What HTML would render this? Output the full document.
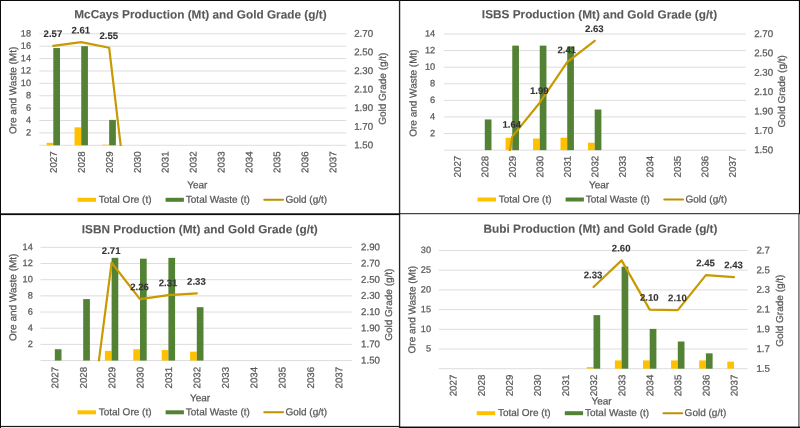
<!DOCTYPE html>
<html><head><meta charset="utf-8"><title>Production and Gold Grade</title>
<style>html,body{margin:0;padding:0;background:#fff}svg{display:block}text{font-family:"Liberation Sans",Arial,sans-serif}</style></head><body>
<svg width="800" height="428" viewBox="0 0 800 428">
<rect x="0" y="0" width="800" height="428" fill="#fff"/>
<g transform="translate(0,0)">
<text transform="translate(200.4,18.4) rotate(0.03)" font-size="11.8" fill="#595959" stroke="#595959" stroke-width="0.1" text-anchor="middle" font-weight="bold">McCays Production (Mt) and Gold Grade (g/t)</text>
<line x1="39.3" x2="346.3" y1="145.3" y2="145.3" stroke="#d9d9d9" stroke-width="0.9"/>
<line x1="39.3" x2="346.3" y1="132.91" y2="132.91" stroke="#d9d9d9" stroke-width="0.9"/>
<text transform="translate(31.1,135.5) rotate(0.03)" font-size="9.2" fill="#595959" stroke="#595959" stroke-width="0.25" text-anchor="end">2</text>
<line x1="39.3" x2="346.3" y1="120.52" y2="120.52" stroke="#d9d9d9" stroke-width="0.9"/>
<text transform="translate(31.1,123.12) rotate(0.03)" font-size="9.2" fill="#595959" stroke="#595959" stroke-width="0.25" text-anchor="end">4</text>
<line x1="39.3" x2="346.3" y1="108.13" y2="108.13" stroke="#d9d9d9" stroke-width="0.9"/>
<text transform="translate(31.1,110.73) rotate(0.03)" font-size="9.2" fill="#595959" stroke="#595959" stroke-width="0.25" text-anchor="end">6</text>
<line x1="39.3" x2="346.3" y1="95.74" y2="95.74" stroke="#d9d9d9" stroke-width="0.9"/>
<text transform="translate(31.1,98.34) rotate(0.03)" font-size="9.2" fill="#595959" stroke="#595959" stroke-width="0.25" text-anchor="end">8</text>
<line x1="39.3" x2="346.3" y1="83.36" y2="83.36" stroke="#d9d9d9" stroke-width="0.9"/>
<text transform="translate(31.1,85.95) rotate(0.03)" font-size="9.2" fill="#595959" stroke="#595959" stroke-width="0.25" text-anchor="end">10</text>
<line x1="39.3" x2="346.3" y1="70.97" y2="70.97" stroke="#d9d9d9" stroke-width="0.9"/>
<text transform="translate(31.1,73.56) rotate(0.03)" font-size="9.2" fill="#595959" stroke="#595959" stroke-width="0.25" text-anchor="end">12</text>
<line x1="39.3" x2="346.3" y1="58.58" y2="58.58" stroke="#d9d9d9" stroke-width="0.9"/>
<text transform="translate(31.1,61.17) rotate(0.03)" font-size="9.2" fill="#595959" stroke="#595959" stroke-width="0.25" text-anchor="end">14</text>
<line x1="39.3" x2="346.3" y1="46.19" y2="46.19" stroke="#d9d9d9" stroke-width="0.9"/>
<text transform="translate(31.1,48.78) rotate(0.03)" font-size="9.2" fill="#595959" stroke="#595959" stroke-width="0.25" text-anchor="end">16</text>
<line x1="39.3" x2="346.3" y1="33.8" y2="33.8" stroke="#d9d9d9" stroke-width="0.9"/>
<text transform="translate(31.1,36.39) rotate(0.03)" font-size="9.2" fill="#595959" stroke="#595959" stroke-width="0.25" text-anchor="end">18</text>
<text transform="translate(354.2,148.27) rotate(0.03)" font-size="9.7" fill="#595959" stroke="#595959" stroke-width="0.25">1.50</text>
<text transform="translate(354.2,129.69) rotate(0.03)" font-size="9.7" fill="#595959" stroke="#595959" stroke-width="0.25">1.70</text>
<text transform="translate(354.2,111.11) rotate(0.03)" font-size="9.7" fill="#595959" stroke="#595959" stroke-width="0.25">1.90</text>
<text transform="translate(354.2,92.52) rotate(0.03)" font-size="9.7" fill="#595959" stroke="#595959" stroke-width="0.25">2.10</text>
<text transform="translate(354.2,73.94) rotate(0.03)" font-size="9.7" fill="#595959" stroke="#595959" stroke-width="0.25">2.30</text>
<text transform="translate(354.2,55.36) rotate(0.03)" font-size="9.7" fill="#595959" stroke="#595959" stroke-width="0.25">2.50</text>
<text transform="translate(354.2,36.77) rotate(0.03)" font-size="9.7" fill="#595959" stroke="#595959" stroke-width="0.25">2.70</text>
<rect x="46.6" y="142.82" width="6.7" height="2.48" fill="#ffc000"/>
<rect x="53.3" y="48.05" width="6.7" height="97.25" fill="#548235"/>
<rect x="74.53" y="127.34" width="6.7" height="17.96" fill="#ffc000"/>
<rect x="81.23" y="46.19" width="6.7" height="99.11" fill="#548235"/>
<rect x="102.46" y="144.68" width="6.7" height="0.62" fill="#ffc000"/>
<rect x="109.16" y="119.9" width="6.7" height="25.4" fill="#548235"/>
<clipPath id="clip0_0"><rect x="39.3" y="28.8" width="307" height="117.3"/></clipPath>
<polyline clip-path="url(#clip0_0)" points="53.3,45.88 81.23,42.16 109.16,47.74 137.09,284.68 165.02,284.68 192.95,284.68 220.88,284.68 248.81,284.68 276.74,284.68 304.67,284.68 332.6,284.68" fill="none" stroke="#c79a00" stroke-width="2.2" stroke-linejoin="round" stroke-linecap="round"/>
<text transform="translate(52.9,37.12) rotate(0.03)" font-size="9.6" fill="#333333" stroke="#333333" stroke-width="0.1" text-anchor="middle" font-weight="bold">2.57</text>
<text transform="translate(80.83,33.4) rotate(0.03)" font-size="9.6" fill="#333333" stroke="#333333" stroke-width="0.1" text-anchor="middle" font-weight="bold">2.61</text>
<text transform="translate(108.76,38.97) rotate(0.03)" font-size="9.6" fill="#333333" stroke="#333333" stroke-width="0.1" text-anchor="middle" font-weight="bold">2.55</text>
<text transform="translate(56.87,162.2) rotate(-89.97)" font-size="9.7" fill="#595959" stroke="#595959" stroke-width="0.25" text-anchor="middle">2027</text>
<text transform="translate(84.8,162.2) rotate(-89.97)" font-size="9.7" fill="#595959" stroke="#595959" stroke-width="0.25" text-anchor="middle">2028</text>
<text transform="translate(112.73,162.2) rotate(-89.97)" font-size="9.7" fill="#595959" stroke="#595959" stroke-width="0.25" text-anchor="middle">2029</text>
<text transform="translate(140.66,162.2) rotate(-89.97)" font-size="9.7" fill="#595959" stroke="#595959" stroke-width="0.25" text-anchor="middle">2030</text>
<text transform="translate(168.59,162.2) rotate(-89.97)" font-size="9.7" fill="#595959" stroke="#595959" stroke-width="0.25" text-anchor="middle">2031</text>
<text transform="translate(196.52,162.2) rotate(-89.97)" font-size="9.7" fill="#595959" stroke="#595959" stroke-width="0.25" text-anchor="middle">2032</text>
<text transform="translate(224.45,162.2) rotate(-89.97)" font-size="9.7" fill="#595959" stroke="#595959" stroke-width="0.25" text-anchor="middle">2033</text>
<text transform="translate(252.38,162.2) rotate(-89.97)" font-size="9.7" fill="#595959" stroke="#595959" stroke-width="0.25" text-anchor="middle">2034</text>
<text transform="translate(280.31,162.2) rotate(-89.97)" font-size="9.7" fill="#595959" stroke="#595959" stroke-width="0.25" text-anchor="middle">2035</text>
<text transform="translate(308.24,162.2) rotate(-89.97)" font-size="9.7" fill="#595959" stroke="#595959" stroke-width="0.25" text-anchor="middle">2036</text>
<text transform="translate(336.17,162.2) rotate(-89.97)" font-size="9.7" fill="#595959" stroke="#595959" stroke-width="0.25" text-anchor="middle">2037</text>
<text transform="translate(16.18,90.4) rotate(-89.97)" font-size="10" fill="#595959" stroke="#595959" stroke-width="0.25" text-anchor="middle">Ore and Waste (Mt)</text>
<text transform="translate(385.88,88.7) rotate(-89.97)" font-size="10" fill="#595959" stroke="#595959" stroke-width="0.25" text-anchor="middle">Gold Grade (g/t)</text>
<text transform="translate(197.3,188.18) rotate(0.03)" font-size="10" fill="#595959" stroke="#595959" stroke-width="0.25" text-anchor="middle">Year</text>
<g transform="translate(0,0)">
<rect x="77.5" y="197.8" width="18.5" height="4" fill="#ffc000"/>
<text transform="translate(98.7,202.7) rotate(0.03)" font-size="10" fill="#595959" stroke="#595959" stroke-width="0.25">Total Ore (t)</text>
<rect x="165.6" y="197.8" width="18.3" height="4" fill="#548235"/>
<text transform="translate(185.8,202.7) rotate(0.03)" font-size="10" fill="#595959" stroke="#595959" stroke-width="0.25">Total Waste (t)</text>
<line x1="264.3" x2="283" y1="199.8" y2="199.8" stroke="#bf9000" stroke-width="2.1" stroke-linecap="round"/>
<text transform="translate(285.4,202.7) rotate(0.03)" font-size="10" fill="#595959" stroke="#595959" stroke-width="0.25">Gold (g/t)</text>
</g>
</g>
<g transform="translate(400,0)">
<text transform="translate(199.5,18.4) rotate(0.03)" font-size="11.8" fill="#595959" stroke="#595959" stroke-width="0.1" text-anchor="middle" font-weight="bold">ISBS Production (Mt) and Gold Grade (g/t)</text>
<line x1="43.7" x2="345.8" y1="150.15" y2="150.15" stroke="#d9d9d9" stroke-width="0.9"/>
<line x1="43.7" x2="345.8" y1="133.56" y2="133.56" stroke="#d9d9d9" stroke-width="0.9"/>
<text transform="translate(35.2,136.15) rotate(0.03)" font-size="9.2" fill="#595959" stroke="#595959" stroke-width="0.25" text-anchor="end">2</text>
<line x1="43.7" x2="345.8" y1="116.96" y2="116.96" stroke="#d9d9d9" stroke-width="0.9"/>
<text transform="translate(35.2,119.56) rotate(0.03)" font-size="9.2" fill="#595959" stroke="#595959" stroke-width="0.25" text-anchor="end">4</text>
<line x1="43.7" x2="345.8" y1="100.37" y2="100.37" stroke="#d9d9d9" stroke-width="0.9"/>
<text transform="translate(35.2,102.97) rotate(0.03)" font-size="9.2" fill="#595959" stroke="#595959" stroke-width="0.25" text-anchor="end">6</text>
<line x1="43.7" x2="345.8" y1="83.78" y2="83.78" stroke="#d9d9d9" stroke-width="0.9"/>
<text transform="translate(35.2,86.37) rotate(0.03)" font-size="9.2" fill="#595959" stroke="#595959" stroke-width="0.25" text-anchor="end">8</text>
<line x1="43.7" x2="345.8" y1="67.19" y2="67.19" stroke="#d9d9d9" stroke-width="0.9"/>
<text transform="translate(35.2,69.78) rotate(0.03)" font-size="9.2" fill="#595959" stroke="#595959" stroke-width="0.25" text-anchor="end">10</text>
<line x1="43.7" x2="345.8" y1="50.59" y2="50.59" stroke="#d9d9d9" stroke-width="0.9"/>
<text transform="translate(35.2,53.19) rotate(0.03)" font-size="9.2" fill="#595959" stroke="#595959" stroke-width="0.25" text-anchor="end">12</text>
<line x1="43.7" x2="345.8" y1="34" y2="34" stroke="#d9d9d9" stroke-width="0.9"/>
<text transform="translate(35.2,36.59) rotate(0.03)" font-size="9.2" fill="#595959" stroke="#595959" stroke-width="0.25" text-anchor="end">14</text>
<text transform="translate(354.2,153.12) rotate(0.03)" font-size="9.7" fill="#595959" stroke="#595959" stroke-width="0.25">1.50</text>
<text transform="translate(354.2,133.76) rotate(0.03)" font-size="9.7" fill="#595959" stroke="#595959" stroke-width="0.25">1.70</text>
<text transform="translate(354.2,114.41) rotate(0.03)" font-size="9.7" fill="#595959" stroke="#595959" stroke-width="0.25">1.90</text>
<text transform="translate(354.2,95.05) rotate(0.03)" font-size="9.7" fill="#595959" stroke="#595959" stroke-width="0.25">2.10</text>
<text transform="translate(354.2,75.69) rotate(0.03)" font-size="9.7" fill="#595959" stroke="#595959" stroke-width="0.25">2.30</text>
<text transform="translate(354.2,56.33) rotate(0.03)" font-size="9.7" fill="#595959" stroke="#595959" stroke-width="0.25">2.50</text>
<text transform="translate(354.2,36.97) rotate(0.03)" font-size="9.7" fill="#595959" stroke="#595959" stroke-width="0.25">2.70</text>
<rect x="84.78" y="119.45" width="6.7" height="30.7" fill="#548235"/>
<rect x="105.56" y="137.71" width="6.7" height="12.44" fill="#ffc000"/>
<rect x="112.26" y="45.62" width="6.7" height="104.53" fill="#548235"/>
<rect x="133.04" y="138.53" width="6.7" height="11.61" fill="#ffc000"/>
<rect x="139.74" y="45.62" width="6.7" height="104.53" fill="#548235"/>
<rect x="160.52" y="137.71" width="6.7" height="12.44" fill="#ffc000"/>
<rect x="167.22" y="46.44" width="6.7" height="103.71" fill="#548235"/>
<rect x="188" y="142.68" width="6.7" height="7.47" fill="#ffc000"/>
<rect x="194.7" y="109.5" width="6.7" height="40.65" fill="#548235"/>
<clipPath id="clip400_0"><rect x="43.7" y="29" width="302.1" height="121.95"/></clipPath>
<polyline clip-path="url(#clip400_0)" points="57.3,295.34 84.78,295.34 112.26,136.6 139.74,102.72 167.22,62.07 194.7,40.78" fill="none" stroke="#c79a00" stroke-width="2.2" stroke-linejoin="round" stroke-linecap="round"/>
<text transform="translate(111.86,127.84) rotate(0.03)" font-size="9.6" fill="#333333" stroke="#333333" stroke-width="0.1" text-anchor="middle" font-weight="bold">1.64</text>
<text transform="translate(139.34,93.96) rotate(0.03)" font-size="9.6" fill="#333333" stroke="#333333" stroke-width="0.1" text-anchor="middle" font-weight="bold">1.99</text>
<text transform="translate(166.82,53.31) rotate(0.03)" font-size="9.6" fill="#333333" stroke="#333333" stroke-width="0.1" text-anchor="middle" font-weight="bold">2.41</text>
<text transform="translate(194.3,32.01) rotate(0.03)" font-size="9.6" fill="#333333" stroke="#333333" stroke-width="0.1" text-anchor="middle" font-weight="bold">2.63</text>
<text transform="translate(60.87,166.6) rotate(-89.97)" font-size="9.7" fill="#595959" stroke="#595959" stroke-width="0.25" text-anchor="middle">2027</text>
<text transform="translate(88.35,166.6) rotate(-89.97)" font-size="9.7" fill="#595959" stroke="#595959" stroke-width="0.25" text-anchor="middle">2028</text>
<text transform="translate(115.83,166.6) rotate(-89.97)" font-size="9.7" fill="#595959" stroke="#595959" stroke-width="0.25" text-anchor="middle">2029</text>
<text transform="translate(143.31,166.6) rotate(-89.97)" font-size="9.7" fill="#595959" stroke="#595959" stroke-width="0.25" text-anchor="middle">2030</text>
<text transform="translate(170.79,166.6) rotate(-89.97)" font-size="9.7" fill="#595959" stroke="#595959" stroke-width="0.25" text-anchor="middle">2031</text>
<text transform="translate(198.27,166.6) rotate(-89.97)" font-size="9.7" fill="#595959" stroke="#595959" stroke-width="0.25" text-anchor="middle">2032</text>
<text transform="translate(225.75,166.6) rotate(-89.97)" font-size="9.7" fill="#595959" stroke="#595959" stroke-width="0.25" text-anchor="middle">2033</text>
<text transform="translate(253.23,166.6) rotate(-89.97)" font-size="9.7" fill="#595959" stroke="#595959" stroke-width="0.25" text-anchor="middle">2034</text>
<text transform="translate(280.71,166.6) rotate(-89.97)" font-size="9.7" fill="#595959" stroke="#595959" stroke-width="0.25" text-anchor="middle">2035</text>
<text transform="translate(308.19,166.6) rotate(-89.97)" font-size="9.7" fill="#595959" stroke="#595959" stroke-width="0.25" text-anchor="middle">2036</text>
<text transform="translate(335.67,166.6) rotate(-89.97)" font-size="9.7" fill="#595959" stroke="#595959" stroke-width="0.25" text-anchor="middle">2037</text>
<text transform="translate(16.58,93.1) rotate(-89.97)" font-size="10" fill="#595959" stroke="#595959" stroke-width="0.25" text-anchor="middle">Ore and Waste (Mt)</text>
<text transform="translate(384.98,91.3) rotate(-89.97)" font-size="10" fill="#595959" stroke="#595959" stroke-width="0.25" text-anchor="middle">Gold Grade (g/t)</text>
<text transform="translate(199,188.18) rotate(0.03)" font-size="10" fill="#595959" stroke="#595959" stroke-width="0.25" text-anchor="middle">Year</text>
<g transform="translate(0,0)">
<rect x="77.5" y="197.5" width="18.5" height="4" fill="#ffc000"/>
<text transform="translate(98.7,202.4) rotate(0.03)" font-size="10" fill="#595959" stroke="#595959" stroke-width="0.25">Total Ore (t)</text>
<rect x="165.6" y="197.5" width="18.3" height="4" fill="#548235"/>
<text transform="translate(185.8,202.4) rotate(0.03)" font-size="10" fill="#595959" stroke="#595959" stroke-width="0.25">Total Waste (t)</text>
<line x1="264.3" x2="283" y1="199.5" y2="199.5" stroke="#bf9000" stroke-width="2.1" stroke-linecap="round"/>
<text transform="translate(285.4,202.4) rotate(0.03)" font-size="10" fill="#595959" stroke="#595959" stroke-width="0.25">Gold (g/t)</text>
</g>
</g>
<g transform="translate(0,214)">
<text transform="translate(199.8,19.3) rotate(0.03)" font-size="11.8" fill="#595959" stroke="#595959" stroke-width="0.1" text-anchor="middle" font-weight="bold">ISBN Production (Mt) and Gold Grade (g/t)</text>
<line x1="40.5" x2="351.8" y1="146.55" y2="146.55" stroke="#d9d9d9" stroke-width="0.9"/>
<line x1="40.5" x2="351.8" y1="130.38" y2="130.38" stroke="#d9d9d9" stroke-width="0.9"/>
<text transform="translate(32.8,132.97) rotate(0.03)" font-size="9.2" fill="#595959" stroke="#595959" stroke-width="0.25" text-anchor="end">2</text>
<line x1="40.5" x2="351.8" y1="114.21" y2="114.21" stroke="#d9d9d9" stroke-width="0.9"/>
<text transform="translate(32.8,116.8) rotate(0.03)" font-size="9.2" fill="#595959" stroke="#595959" stroke-width="0.25" text-anchor="end">4</text>
<line x1="40.5" x2="351.8" y1="98.04" y2="98.04" stroke="#d9d9d9" stroke-width="0.9"/>
<text transform="translate(32.8,100.63) rotate(0.03)" font-size="9.2" fill="#595959" stroke="#595959" stroke-width="0.25" text-anchor="end">6</text>
<line x1="40.5" x2="351.8" y1="81.86" y2="81.86" stroke="#d9d9d9" stroke-width="0.9"/>
<text transform="translate(32.8,84.46) rotate(0.03)" font-size="9.2" fill="#595959" stroke="#595959" stroke-width="0.25" text-anchor="end">8</text>
<line x1="40.5" x2="351.8" y1="65.69" y2="65.69" stroke="#d9d9d9" stroke-width="0.9"/>
<text transform="translate(32.8,68.29) rotate(0.03)" font-size="9.2" fill="#595959" stroke="#595959" stroke-width="0.25" text-anchor="end">10</text>
<line x1="40.5" x2="351.8" y1="49.52" y2="49.52" stroke="#d9d9d9" stroke-width="0.9"/>
<text transform="translate(32.8,52.12) rotate(0.03)" font-size="9.2" fill="#595959" stroke="#595959" stroke-width="0.25" text-anchor="end">12</text>
<line x1="40.5" x2="351.8" y1="33.35" y2="33.35" stroke="#d9d9d9" stroke-width="0.9"/>
<text transform="translate(32.8,35.94) rotate(0.03)" font-size="9.2" fill="#595959" stroke="#595959" stroke-width="0.25" text-anchor="end">14</text>
<text transform="translate(361.1,149.52) rotate(0.03)" font-size="9.7" fill="#595959" stroke="#595959" stroke-width="0.25">1.50</text>
<text transform="translate(361.1,133.35) rotate(0.03)" font-size="9.7" fill="#595959" stroke="#595959" stroke-width="0.25">1.70</text>
<text transform="translate(361.1,117.18) rotate(0.03)" font-size="9.7" fill="#595959" stroke="#595959" stroke-width="0.25">1.90</text>
<text transform="translate(361.1,101.01) rotate(0.03)" font-size="9.7" fill="#595959" stroke="#595959" stroke-width="0.25">2.10</text>
<text transform="translate(361.1,84.84) rotate(0.03)" font-size="9.7" fill="#595959" stroke="#595959" stroke-width="0.25">2.30</text>
<text transform="translate(361.1,68.67) rotate(0.03)" font-size="9.7" fill="#595959" stroke="#595959" stroke-width="0.25">2.50</text>
<text transform="translate(361.1,52.49) rotate(0.03)" font-size="9.7" fill="#595959" stroke="#595959" stroke-width="0.25">2.70</text>
<text transform="translate(361.1,36.32) rotate(0.03)" font-size="9.7" fill="#595959" stroke="#595959" stroke-width="0.25">2.90</text>
<rect x="54.8" y="135.23" width="6.7" height="11.32" fill="#548235"/>
<rect x="83.2" y="85.1" width="6.7" height="61.45" fill="#548235"/>
<rect x="104.9" y="136.85" width="6.7" height="9.7" fill="#ffc000"/>
<rect x="111.6" y="43.86" width="6.7" height="102.69" fill="#548235"/>
<rect x="133.3" y="135.23" width="6.7" height="11.32" fill="#ffc000"/>
<rect x="140" y="44.67" width="6.7" height="101.88" fill="#548235"/>
<rect x="161.7" y="136.04" width="6.7" height="10.51" fill="#ffc000"/>
<rect x="168.4" y="43.86" width="6.7" height="102.69" fill="#548235"/>
<rect x="190.1" y="137.66" width="6.7" height="8.89" fill="#ffc000"/>
<rect x="196.8" y="93.18" width="6.7" height="53.37" fill="#548235"/>
<clipPath id="clip0_214"><rect x="40.5" y="28.35" width="311.3" height="119"/></clipPath>
<polyline clip-path="url(#clip0_214)" points="54.8,267.84 83.2,267.84 111.6,48.71 140,85.1 168.4,81.06 196.8,79.44" fill="none" stroke="#c79a00" stroke-width="2.2" stroke-linejoin="round" stroke-linecap="round"/>
<text transform="translate(111.2,39.95) rotate(0.03)" font-size="9.6" fill="#333333" stroke="#333333" stroke-width="0.1" text-anchor="middle" font-weight="bold">2.71</text>
<text transform="translate(139.6,76.34) rotate(0.03)" font-size="9.6" fill="#333333" stroke="#333333" stroke-width="0.1" text-anchor="middle" font-weight="bold">2.26</text>
<text transform="translate(168,72.29) rotate(0.03)" font-size="9.6" fill="#333333" stroke="#333333" stroke-width="0.1" text-anchor="middle" font-weight="bold">2.31</text>
<text transform="translate(196.4,70.68) rotate(0.03)" font-size="9.6" fill="#333333" stroke="#333333" stroke-width="0.1" text-anchor="middle" font-weight="bold">2.33</text>
<text transform="translate(58.37,163.7) rotate(-89.97)" font-size="9.7" fill="#595959" stroke="#595959" stroke-width="0.25" text-anchor="middle">2027</text>
<text transform="translate(86.77,163.7) rotate(-89.97)" font-size="9.7" fill="#595959" stroke="#595959" stroke-width="0.25" text-anchor="middle">2028</text>
<text transform="translate(115.17,163.7) rotate(-89.97)" font-size="9.7" fill="#595959" stroke="#595959" stroke-width="0.25" text-anchor="middle">2029</text>
<text transform="translate(143.57,163.7) rotate(-89.97)" font-size="9.7" fill="#595959" stroke="#595959" stroke-width="0.25" text-anchor="middle">2030</text>
<text transform="translate(171.97,163.7) rotate(-89.97)" font-size="9.7" fill="#595959" stroke="#595959" stroke-width="0.25" text-anchor="middle">2031</text>
<text transform="translate(200.37,163.7) rotate(-89.97)" font-size="9.7" fill="#595959" stroke="#595959" stroke-width="0.25" text-anchor="middle">2032</text>
<text transform="translate(228.77,163.7) rotate(-89.97)" font-size="9.7" fill="#595959" stroke="#595959" stroke-width="0.25" text-anchor="middle">2033</text>
<text transform="translate(257.17,163.7) rotate(-89.97)" font-size="9.7" fill="#595959" stroke="#595959" stroke-width="0.25" text-anchor="middle">2034</text>
<text transform="translate(285.57,163.7) rotate(-89.97)" font-size="9.7" fill="#595959" stroke="#595959" stroke-width="0.25" text-anchor="middle">2035</text>
<text transform="translate(313.97,163.7) rotate(-89.97)" font-size="9.7" fill="#595959" stroke="#595959" stroke-width="0.25" text-anchor="middle">2036</text>
<text transform="translate(342.37,163.7) rotate(-89.97)" font-size="9.7" fill="#595959" stroke="#595959" stroke-width="0.25" text-anchor="middle">2037</text>
<text transform="translate(16.18,83.3) rotate(-89.97)" font-size="10" fill="#595959" stroke="#595959" stroke-width="0.25" text-anchor="middle">Ore and Waste (Mt)</text>
<text transform="translate(392.08,90.7) rotate(-89.97)" font-size="10" fill="#595959" stroke="#595959" stroke-width="0.25" text-anchor="middle">Gold Grade (g/t)</text>
<text transform="translate(200,187.28) rotate(0.03)" font-size="10" fill="#595959" stroke="#595959" stroke-width="0.25" text-anchor="middle">Year</text>
<g transform="translate(0,0)">
<rect x="77.5" y="196.3" width="18.5" height="4" fill="#ffc000"/>
<text transform="translate(98.7,201.2) rotate(0.03)" font-size="10" fill="#595959" stroke="#595959" stroke-width="0.25">Total Ore (t)</text>
<rect x="165.6" y="196.3" width="18.3" height="4" fill="#548235"/>
<text transform="translate(185.8,201.2) rotate(0.03)" font-size="10" fill="#595959" stroke="#595959" stroke-width="0.25">Total Waste (t)</text>
<line x1="264.3" x2="283" y1="198.3" y2="198.3" stroke="#bf9000" stroke-width="2.1" stroke-linecap="round"/>
<text transform="translate(285.4,201.2) rotate(0.03)" font-size="10" fill="#595959" stroke="#595959" stroke-width="0.25">Gold (g/t)</text>
</g>
</g>
<g transform="translate(400,214)">
<text transform="translate(200.5,18.7) rotate(0.03)" font-size="11.8" fill="#595959" stroke="#595959" stroke-width="0.1" text-anchor="middle" font-weight="bold">Bubi Production (Mt) and Gold Grade (g/t)</text>
<line x1="38.8" x2="347.6" y1="154.7" y2="154.7" stroke="#d9d9d9" stroke-width="0.9"/>
<line x1="38.8" x2="347.6" y1="135" y2="135" stroke="#d9d9d9" stroke-width="0.9"/>
<text transform="translate(31,137.59) rotate(0.03)" font-size="9.2" fill="#595959" stroke="#595959" stroke-width="0.25" text-anchor="end">5</text>
<line x1="38.8" x2="347.6" y1="115.3" y2="115.3" stroke="#d9d9d9" stroke-width="0.9"/>
<text transform="translate(31,117.89) rotate(0.03)" font-size="9.2" fill="#595959" stroke="#595959" stroke-width="0.25" text-anchor="end">10</text>
<line x1="38.8" x2="347.6" y1="95.6" y2="95.6" stroke="#d9d9d9" stroke-width="0.9"/>
<text transform="translate(31,98.19) rotate(0.03)" font-size="9.2" fill="#595959" stroke="#595959" stroke-width="0.25" text-anchor="end">15</text>
<line x1="38.8" x2="347.6" y1="75.9" y2="75.9" stroke="#d9d9d9" stroke-width="0.9"/>
<text transform="translate(31,78.49) rotate(0.03)" font-size="9.2" fill="#595959" stroke="#595959" stroke-width="0.25" text-anchor="end">20</text>
<line x1="38.8" x2="347.6" y1="56.2" y2="56.2" stroke="#d9d9d9" stroke-width="0.9"/>
<text transform="translate(31,58.79) rotate(0.03)" font-size="9.2" fill="#595959" stroke="#595959" stroke-width="0.25" text-anchor="end">25</text>
<line x1="38.8" x2="347.6" y1="36.5" y2="36.5" stroke="#d9d9d9" stroke-width="0.9"/>
<text transform="translate(31,39.09) rotate(0.03)" font-size="9.2" fill="#595959" stroke="#595959" stroke-width="0.25" text-anchor="end">30</text>
<text transform="translate(356.4,157.67) rotate(0.03)" font-size="9.7" fill="#595959" stroke="#595959" stroke-width="0.25">1.5</text>
<text transform="translate(356.4,137.97) rotate(0.03)" font-size="9.7" fill="#595959" stroke="#595959" stroke-width="0.25">1.7</text>
<text transform="translate(356.4,118.27) rotate(0.03)" font-size="9.7" fill="#595959" stroke="#595959" stroke-width="0.25">1.9</text>
<text transform="translate(356.4,98.57) rotate(0.03)" font-size="9.7" fill="#595959" stroke="#595959" stroke-width="0.25">2.1</text>
<text transform="translate(356.4,78.87) rotate(0.03)" font-size="9.7" fill="#595959" stroke="#595959" stroke-width="0.25">2.3</text>
<text transform="translate(356.4,59.17) rotate(0.03)" font-size="9.7" fill="#595959" stroke="#595959" stroke-width="0.25">2.5</text>
<text transform="translate(356.4,39.47) rotate(0.03)" font-size="9.7" fill="#595959" stroke="#595959" stroke-width="0.25">2.7</text>
<rect x="186.8" y="153.12" width="6.7" height="1.58" fill="#ffc000"/>
<rect x="193.5" y="101.12" width="6.7" height="53.58" fill="#548235"/>
<rect x="214.9" y="146.43" width="6.7" height="8.27" fill="#ffc000"/>
<rect x="221.6" y="52.65" width="6.7" height="102.05" fill="#548235"/>
<rect x="243" y="146.43" width="6.7" height="8.27" fill="#ffc000"/>
<rect x="249.7" y="114.91" width="6.7" height="39.79" fill="#548235"/>
<rect x="271.1" y="146.43" width="6.7" height="8.27" fill="#ffc000"/>
<rect x="277.8" y="127.51" width="6.7" height="27.19" fill="#548235"/>
<rect x="299.2" y="146.43" width="6.7" height="8.27" fill="#ffc000"/>
<rect x="305.9" y="139.33" width="6.7" height="15.37" fill="#548235"/>
<rect x="327.3" y="147.61" width="6.7" height="7.09" fill="#ffc000"/>
<clipPath id="clip400_214"><rect x="38.8" y="31.5" width="308.8" height="124"/></clipPath>
<polyline clip-path="url(#clip400_214)" points="193.5,72.95 221.6,46.35 249.7,95.6 277.8,96.09 305.9,61.12 334,63.09" fill="none" stroke="#c79a00" stroke-width="2.2" stroke-linejoin="round" stroke-linecap="round"/>
<text transform="translate(193.1,64.18) rotate(0.03)" font-size="9.6" fill="#333333" stroke="#333333" stroke-width="0.1" text-anchor="middle" font-weight="bold">2.33</text>
<text transform="translate(221.2,37.59) rotate(0.03)" font-size="9.6" fill="#333333" stroke="#333333" stroke-width="0.1" text-anchor="middle" font-weight="bold">2.60</text>
<text transform="translate(249.3,86.84) rotate(0.03)" font-size="9.6" fill="#333333" stroke="#333333" stroke-width="0.1" text-anchor="middle" font-weight="bold">2.10</text>
<text transform="translate(277.4,87.33) rotate(0.03)" font-size="9.6" fill="#333333" stroke="#333333" stroke-width="0.1" text-anchor="middle" font-weight="bold">2.10</text>
<text transform="translate(305.5,52.36) rotate(0.03)" font-size="9.6" fill="#333333" stroke="#333333" stroke-width="0.1" text-anchor="middle" font-weight="bold">2.45</text>
<text transform="translate(333.6,54.33) rotate(0.03)" font-size="9.6" fill="#333333" stroke="#333333" stroke-width="0.1" text-anchor="middle" font-weight="bold">2.43</text>
<text transform="translate(56.57,171.5) rotate(-89.97)" font-size="9.7" fill="#595959" stroke="#595959" stroke-width="0.25" text-anchor="middle">2027</text>
<text transform="translate(84.67,171.5) rotate(-89.97)" font-size="9.7" fill="#595959" stroke="#595959" stroke-width="0.25" text-anchor="middle">2028</text>
<text transform="translate(112.77,171.5) rotate(-89.97)" font-size="9.7" fill="#595959" stroke="#595959" stroke-width="0.25" text-anchor="middle">2029</text>
<text transform="translate(140.87,171.5) rotate(-89.97)" font-size="9.7" fill="#595959" stroke="#595959" stroke-width="0.25" text-anchor="middle">2030</text>
<text transform="translate(168.97,171.5) rotate(-89.97)" font-size="9.7" fill="#595959" stroke="#595959" stroke-width="0.25" text-anchor="middle">2031</text>
<text transform="translate(197.07,171.5) rotate(-89.97)" font-size="9.7" fill="#595959" stroke="#595959" stroke-width="0.25" text-anchor="middle">2032</text>
<text transform="translate(225.17,171.5) rotate(-89.97)" font-size="9.7" fill="#595959" stroke="#595959" stroke-width="0.25" text-anchor="middle">2033</text>
<text transform="translate(253.27,171.5) rotate(-89.97)" font-size="9.7" fill="#595959" stroke="#595959" stroke-width="0.25" text-anchor="middle">2034</text>
<text transform="translate(281.37,171.5) rotate(-89.97)" font-size="9.7" fill="#595959" stroke="#595959" stroke-width="0.25" text-anchor="middle">2035</text>
<text transform="translate(309.47,171.5) rotate(-89.97)" font-size="9.7" fill="#595959" stroke="#595959" stroke-width="0.25" text-anchor="middle">2036</text>
<text transform="translate(337.57,171.5) rotate(-89.97)" font-size="9.7" fill="#595959" stroke="#595959" stroke-width="0.25" text-anchor="middle">2037</text>
<text transform="translate(15.38,95.7) rotate(-89.97)" font-size="10" fill="#595959" stroke="#595959" stroke-width="0.25" text-anchor="middle">Ore and Waste (Mt)</text>
<text transform="translate(383.08,96.7) rotate(-89.97)" font-size="10" fill="#595959" stroke="#595959" stroke-width="0.25" text-anchor="middle">Gold Grade (g/t)</text>
<text transform="translate(201.6,190.38) rotate(0.03)" font-size="10" fill="#595959" stroke="#595959" stroke-width="0.25" text-anchor="middle">Year</text>
<g transform="translate(-0.8,0)">
<rect x="77.5" y="197.2" width="18.5" height="4" fill="#ffc000"/>
<text transform="translate(98.7,202.1) rotate(0.03)" font-size="10" fill="#595959" stroke="#595959" stroke-width="0.25">Total Ore (t)</text>
<rect x="165.6" y="197.2" width="18.3" height="4" fill="#548235"/>
<text transform="translate(185.8,202.1) rotate(0.03)" font-size="10" fill="#595959" stroke="#595959" stroke-width="0.25">Total Waste (t)</text>
<line x1="264.3" x2="283" y1="199.2" y2="199.2" stroke="#bf9000" stroke-width="2.1" stroke-linecap="round"/>
<text transform="translate(285.4,202.1) rotate(0.03)" font-size="10" fill="#595959" stroke="#595959" stroke-width="0.25">Gold (g/t)</text>
</g>
</g>
<rect x="0" y="0" width="800" height="1" fill="#0a0a0a"/>
<rect x="0" y="0" width="1" height="428" fill="#0a0a0a"/>
<rect x="798.9" y="0" width="1.1" height="214" fill="#0a0a0a"/>
<rect x="798.1" y="214" width="1" height="214" fill="#777"/>
<rect x="799.1" y="214" width="0.9" height="214" fill="#999"/>
<rect x="0" y="425.9" width="399" height="1.1" fill="#1a1a1a"/>
<rect x="1" y="427" width="398" height="1" fill="#e6e6e6"/>
<rect x="399" y="426.55" width="401" height="1.45" fill="#0a0a0a"/>
<rect x="398.9" y="0" width="1.35" height="428" fill="#222"/>
<rect x="0" y="213.3" width="399.5" height="1.8" fill="#0a0a0a"/>
<rect x="399.5" y="213.2" width="400.5" height="1" fill="#1a1a1a"/>
</svg></body></html>
